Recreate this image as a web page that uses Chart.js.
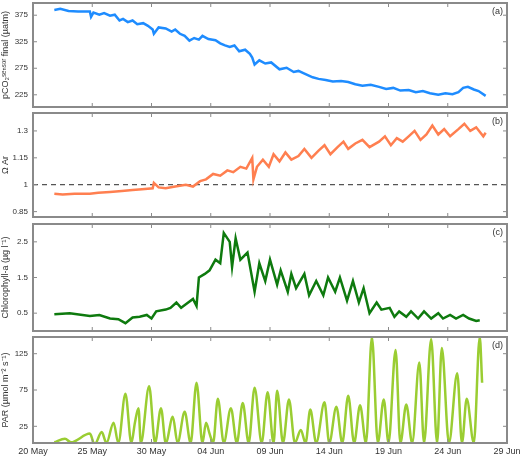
<!DOCTYPE html>
<html>
<head>
<meta charset="utf-8">
<script src="https://cdn.jsdelivr.net/npm/chart.js@4"></script>
<style>
  body { margin: 0; background: #fff; }
  canvas { position: absolute; left: 0; }
</style>
</head>
<body>
<canvas id="pco2" width="520" height="106" style="top:2px"></canvas>
<canvas id="omega" width="520" height="106" style="top:112px"></canvas>
<canvas id="chl" width="520" height="109" style="top:223px"></canvas>
<canvas id="par" width="520" height="122" style="top:336px"></canvas>
<script>
// days since 20 May
const tickLabels = ['20 May', '25 May', '30 May', '04 Jun', '09 Jun', '14 Jun', '19 Jun', '24 Jun', '29 Jun'];
const pco2Ticks = [225, 275, 325, 375];
const omegaTicks = [0.85, 1, 1.15, 1.3];
const chlTicks = [0.5, 1.5, 2.5];
const parTicks = [25, 75, 125];

const pco2Days = [1.8, 2.3, 3.0, 3.8, 4.8, 4.9, 5.1, 5.6, 6.0, 6.5, 6.9, 7.3, 7.6, 8.0, 8.4, 8.8, 9.3, 9.7, 10.1, 10.2, 10.6, 11.2, 11.7, 12.0, 12.4, 12.8, 13.2, 13.6, 14.0, 14.3, 14.8, 15.4, 15.8, 16.2, 16.6, 17.0, 17.4, 17.9, 18.3, 18.5, 18.7, 19.1, 19.6, 20.1, 20.8, 21.4, 22.0, 22.4, 23.0, 23.6, 24.1, 24.7, 25.3, 26.0, 26.6, 27.2, 27.8, 28.5, 29.2, 29.8, 30.4, 31.0, 31.7, 32.3, 32.9, 33.5, 34.2, 34.8, 35.4, 35.9, 36.3, 36.7, 37.2, 37.6, 38.2];
const pco2Vals = [385, 387, 383, 382, 382, 372, 380, 376, 379, 374, 376, 365, 368, 362, 365, 358, 360, 355, 348, 340, 352, 350, 344, 348, 340, 336, 327, 332, 329, 336, 330, 328, 322, 318, 315, 318, 307, 310, 302, 295, 282, 290, 284, 286, 273, 276, 268, 270, 264, 258, 255, 253, 250, 251, 249, 245, 242, 244, 240, 236, 238, 233, 234, 230, 232, 228, 225, 228, 226, 230, 238, 240, 235, 232, 223];

const omegaDays = [1.8, 2.5, 3.5, 4.8, 5.5, 6.5, 7.5, 8.4, 9.2, 10.1, 10.2, 10.6, 11.2, 12.0, 12.9, 13.5, 14.1, 14.6, 15.2, 15.8, 16.4, 16.9, 17.5, 18.0, 18.5, 18.6, 18.9, 19.4, 19.9, 20.3, 20.8, 21.3, 21.8, 22.4, 22.9, 23.5, 24.1, 24.6, 25.1, 25.7, 26.2, 26.6, 27.2, 27.8, 28.4, 29.2, 29.7, 30.2, 30.7, 31.2, 31.7, 32.2, 32.7, 33.2, 33.7, 34.2, 34.7, 35.2, 35.9, 36.4, 36.9, 37.4, 38.0, 38.2];
const omegaVals = [0.95, 0.945, 0.95, 0.95, 0.955, 0.96, 0.965, 0.97, 0.975, 0.98, 1.01, 0.985, 0.98, 0.99, 1.0, 0.99, 1.02, 1.03, 1.06, 1.05, 1.08, 1.07, 1.1, 1.09, 1.15, 1.03, 1.1, 1.14, 1.1, 1.17, 1.13, 1.18, 1.14, 1.16, 1.2, 1.15, 1.19, 1.22, 1.17, 1.21, 1.24, 1.2, 1.23, 1.25, 1.21, 1.24, 1.27, 1.22, 1.26, 1.24, 1.27, 1.3, 1.25, 1.28, 1.33, 1.28, 1.31, 1.27, 1.31, 1.34, 1.3, 1.32, 1.27, 1.29];
const refLine = [1, 1];

const chlDays = [1.8, 3.1, 4.8, 5.6, 6.5, 7.2, 7.8, 8.4, 9.0, 9.6, 10.0, 10.4, 11.2, 11.6, 12.1, 12.5, 12.9, 13.5, 13.8, 14.0, 14.5, 14.9, 15.4, 15.8, 16.1, 16.6, 16.8, 17.1, 17.5, 18.1, 18.7, 19.1, 19.6, 20.0, 20.6, 20.9, 21.5, 21.8, 22.2, 22.9, 23.3, 23.9, 24.5, 24.9, 25.5, 25.9, 26.5, 27.0, 27.5, 27.9, 28.4, 29.0, 29.4, 30.1, 30.5, 30.9, 31.5, 31.9, 32.5, 33.0, 33.6, 34.2, 34.6, 35.2, 35.7, 36.3, 36.8, 37.4, 37.7];
const chlVals = [0.47, 0.5, 0.42, 0.45, 0.35, 0.33, 0.22, 0.38, 0.4, 0.45, 0.35, 0.55, 0.6, 0.65, 0.8, 0.65, 0.75, 0.9, 0.7, 1.5, 1.6, 1.7, 2.0, 1.9, 2.75, 2.5, 1.8, 2.6, 2.0, 2.2, 1.1, 1.9, 1.4, 2.0, 1.3, 1.7, 1.1, 1.6, 1.2, 1.6, 1.0, 1.4, 1.0, 1.5, 1.1, 1.5, 0.85, 1.4, 0.8, 1.2, 0.5, 0.8, 0.6, 0.65, 0.4, 0.55, 0.4, 0.55, 0.35, 0.55, 0.35, 0.5, 0.35, 0.45, 0.35, 0.45, 0.35, 0.28, 0.3];

const parDays = [1.8, 2.7, 3.2, 4.8, 5.2, 5.8, 6.2, 6.8, 7.2, 7.8, 8.3, 8.6, 8.9, 9.1, 9.8, 10.3, 10.8, 11.2, 11.8, 12.2, 12.8, 13.3, 13.8, 14.3, 14.6, 14.9, 15.2, 15.6, 16.1, 16.7, 17.2, 17.7, 18.2, 18.7, 19.3, 19.8, 20.3, 20.6, 21.1, 21.6, 22.1, 22.6, 23.0, 23.4, 23.9, 24.6, 25.0, 25.6, 26.1, 26.6, 27.1, 27.6, 28.1, 28.6, 29.1, 29.6, 30.0, 30.6, 31.0, 31.5, 32.0, 32.6, 33.0, 33.6, 34.1, 34.5, 35.1, 35.8, 36.2, 36.6, 37.2, 37.7, 37.9];
const parVals = [3, 8, 3, 15, 0, 17, 2, 30, 2, 70, 2, 30, 50, 2, 80, 2, 50, 2, 38, 2, 45, 2, 85, 2, 30, 15, 2, 63, 2, 50, 2, 57, 2, 78, 2, 72, 2, 74, 2, 62, 2, 20, 2, 48, 2, 58, 2, 52, 2, 67, 2, 54, 2, 148, 2, 62, 2, 130, 2, 55, 2, 113, 2, 145, 2, 133, 2, 98, 2, 63, 2, 148, 85];

Chart.defaults.font.family = 'Liberation Sans, Arial, sans-serif';
Chart.defaults.font.size = 9;
Chart.defaults.color = '#333';

function points(xs, ys) {
  return xs.map((x, i) => ({ x: x, y: ys[i] }));
}

// box frame, inward ticks and the panel letter
const frame = {
  id: 'frame',
  afterDraw(chart, args, opts) {
    const ctx = chart.ctx;
    const a = chart.chartArea;
    const xs = chart.scales.x, ys = chart.scales.y;
    ctx.save();
    ctx.strokeStyle = '#8a8a8a';
    ctx.lineWidth = 1;
    xs.ticks.forEach(t => {
      const px = xs.getPixelForValue(t.value);
      ctx.beginPath();
      ctx.moveTo(px, a.top); ctx.lineTo(px, a.top + 4);
      ctx.moveTo(px, a.bottom); ctx.lineTo(px, a.bottom - 4);
      ctx.stroke();
    });
    ys.ticks.forEach(t => {
      const py = ys.getPixelForValue(t.value);
      ctx.beginPath();
      ctx.moveTo(a.left, py); ctx.lineTo(a.left + 4, py);
      ctx.moveTo(a.right, py); ctx.lineTo(a.right - 4, py);
      ctx.stroke();
    });
    ctx.lineWidth = 2;
    ctx.strokeRect(a.left, a.top, a.right - a.left, a.bottom - a.top);
    ctx.fillStyle = '#333';
    ctx.font = '9px Liberation Sans, Arial, sans-serif';
    ctx.textAlign = 'right';
    ctx.fillText(opts.letter, a.right - 4, a.top + 11);
    ctx.restore();
  }
};

function makePanel(id, letter, datasets, yMin, yMax, yTicks, yTitle, showX) {
  new Chart(document.getElementById(id), {
    type: 'line',
    data: { datasets: datasets },
    plugins: [frame],
    options: {
      responsive: false,
      animation: false,
      layout: { autoPadding: false, padding: { left: 0, right: 0, top: 1, bottom: 1 } },
      elements: { point: { radius: 0 } },
      plugins: { legend: { display: false }, tooltip: { enabled: false }, frame: { letter: letter } },
      scales: {
        x: {
          type: 'linear', min: 0, max: 40,
          display: showX,
          grid: { display: false, drawTicks: false, tickLength: 0 },
          border: { display: false },
          ticks: {
            stepSize: 5, padding: 3, maxRotation: 0,
            callback: v => tickLabels[v / 5]
          },
          afterFit: s => { s.height = showX ? 14 : 0; s.paddingLeft = 0; s.paddingRight = 0; }
        },
        y: {
          min: yMin, max: yMax,
          grid: { display: false, drawTicks: false, tickLength: 0 },
          border: { display: false },
          title: { display: true, text: yTitle, font: { size: 9 }, padding: 0 },
          ticks: { padding: 5, font: { size: 8 }, callback: v => v },
          afterBuildTicks: s => { s.ticks = yTicks.map(v => ({ value: v })); },
          afterFit: s => { s.width = 33; s.paddingTop = 0; s.paddingBottom = 0; }
        },
        // empty right-hand axis that keeps a 13px margin on the right
        yr: {
          position: 'right', min: 0, max: 1,
          grid: { display: false, drawTicks: false, tickLength: 0 },
          border: { display: false },
          ticks: { display: false },
          afterFit: s => { s.width = 13; s.paddingTop = 0; s.paddingBottom = 0; }
        }
      }
    }
  });
}

makePanel('pco2', '(a)', [{
  data: points(pco2Days, pco2Vals), borderColor: '#1e8cff', borderWidth: 2.5
}], 202, 398, pco2Ticks, 'pCO₂ˢᵉⁿˢᵒʳ final (µatm)', false);

makePanel('omega', '(b)', [
  { data: points(omegaDays, omegaVals), borderColor: '#ff7f50', borderWidth: 2.5 },
  { data: points([0, 40], refLine), borderColor: '#555', borderWidth: 1.2, borderDash: [5, 4] }
], 0.82, 1.4, omegaTicks, 'Ω Ar', false);

makePanel('chl', '(c)', [{
  data: points(chlDays, chlVals), borderColor: '#0e7a0e', borderWidth: 2.5
}], 0, 3, chlTicks, 'Chlorophyll-a (µg l⁻¹)', false);

makePanel('par', '(d)', [{
  data: points(parDays, parVals), borderColor: '#9acd32', borderWidth: 2.5,
  cubicInterpolationMode: 'monotone'
}], 2, 148, parTicks, 'PAR (µmol m⁻² s⁻¹)', true);
</script>
</body>
</html>
